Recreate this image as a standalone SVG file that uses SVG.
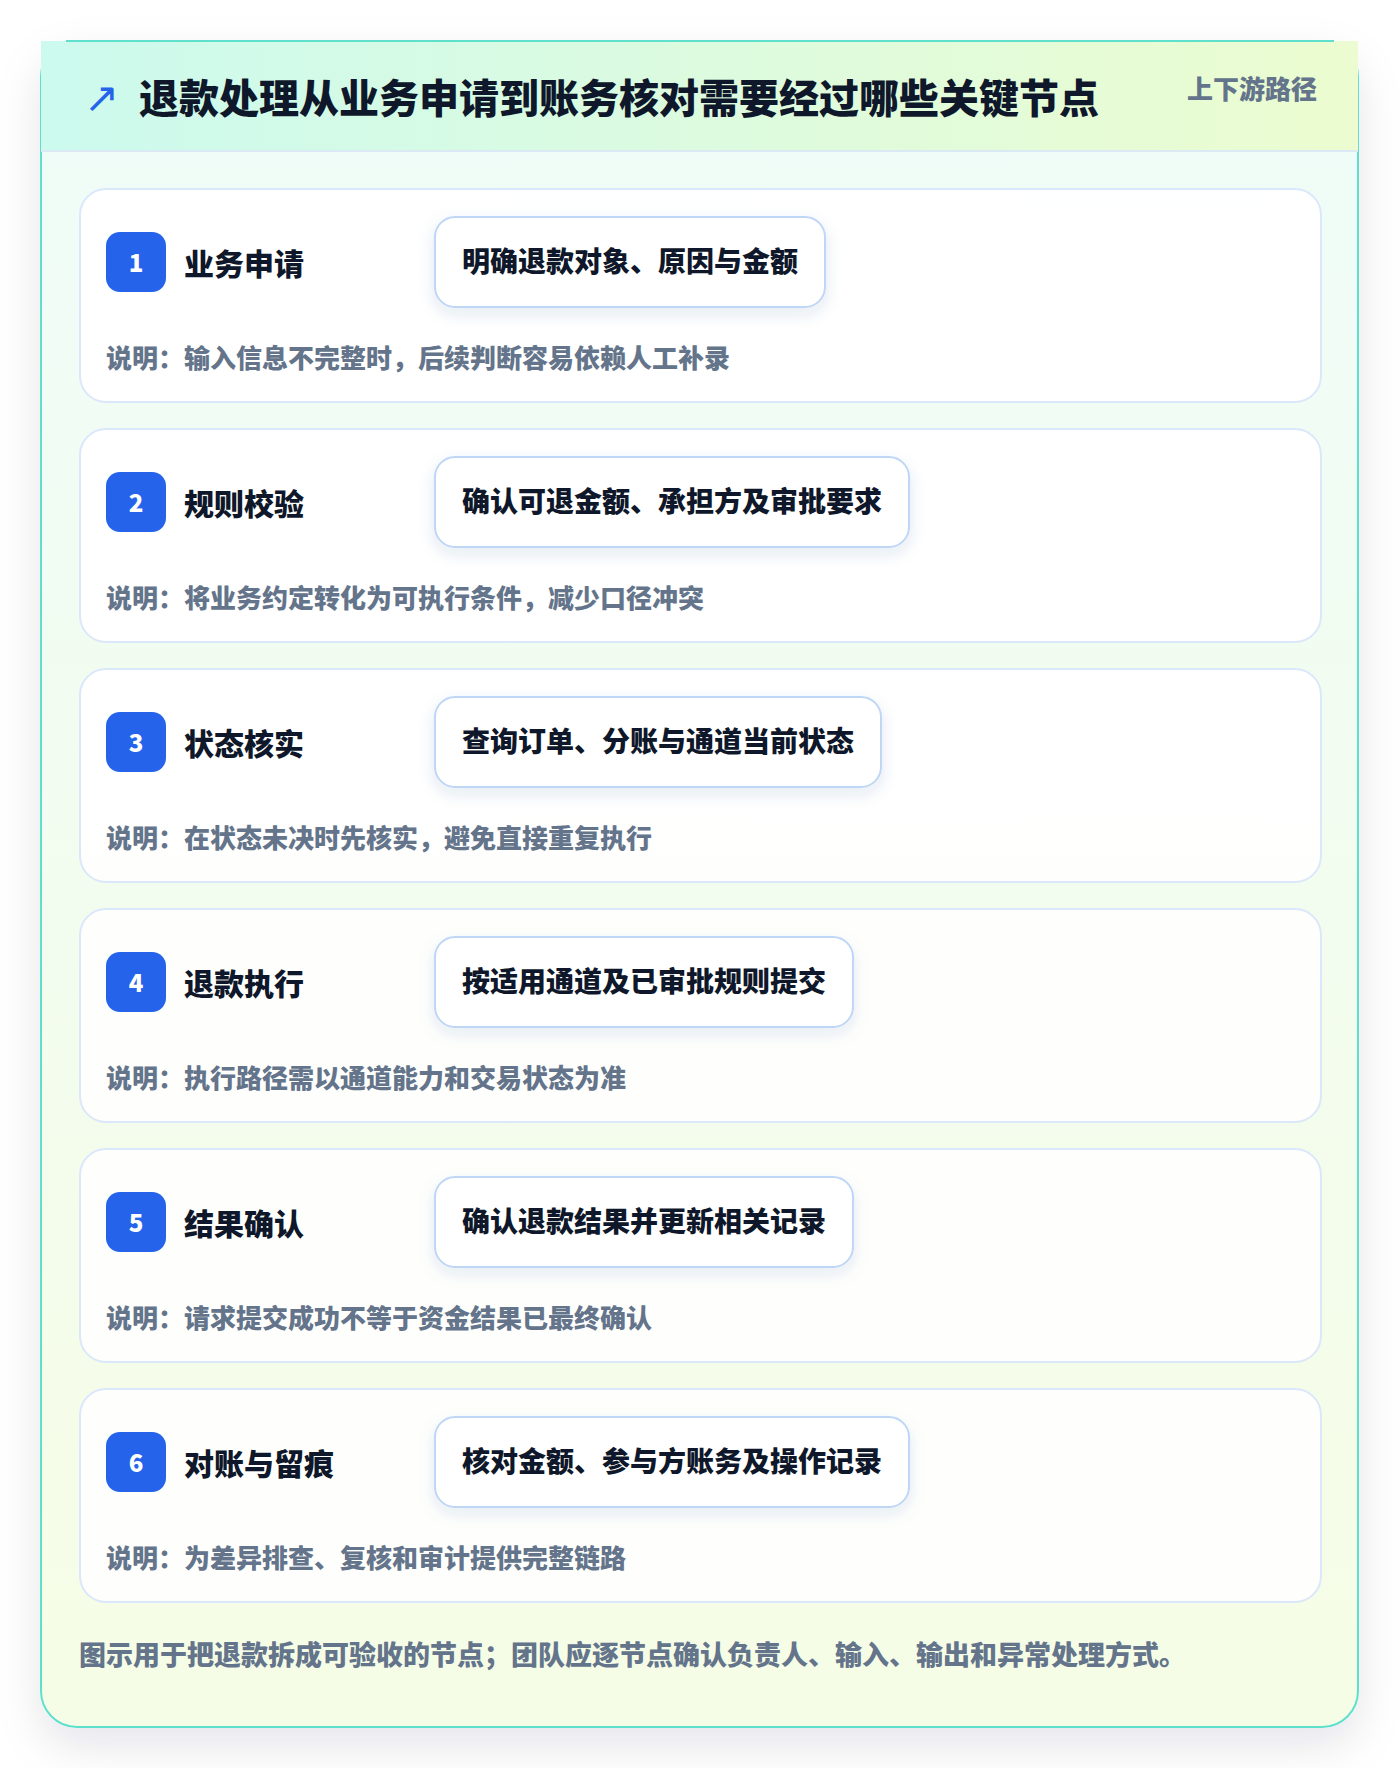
<svg xmlns="http://www.w3.org/2000/svg" width="1400" height="1768" viewBox="0 0 1400 1768">
<defs>
<linearGradient id="hdr" x1="0" y1="0" x2="1" y2="0"><stop offset="0" stop-color="#ccfaee"/><stop offset="1" stop-color="#ecfcd0"/></linearGradient>
<linearGradient id="body" x1="0" y1="0" x2="0" y2="1"><stop offset="0" stop-color="#effcf8"/><stop offset="1" stop-color="#f6fde6"/></linearGradient>
<filter id="cardSh" x="-10%" y="-10%" width="120%" height="120%"><feDropShadow dx="0" dy="18" stdDeviation="22" flood-color="#0f172a" flood-opacity="0.10"/></filter>
<filter id="boxSh" x="-20%" y="-30%" width="140%" height="170%"><feDropShadow dx="0" dy="6" stdDeviation="8" flood-color="#1e3a8a" flood-opacity="0.10"/></filter>
<style>
text{font-family:"Noto Sans CJK SC","Noto Sans",sans-serif;font-weight:900;dominant-baseline:central}
.node{fill:#ffffff;fill-opacity:0.88;stroke:#dbe7fb;stroke-width:2}
.badge{fill:#2563eb}
.num{fill:#ffffff;font-size:24px;text-anchor:middle}
.ttl{fill:#0f172a;font-size:30px}
.box{fill:#ffffff;stroke:#bfd6f6;stroke-width:2}
.btx{fill:#0f172a;font-size:28px}
.desc{fill:#64748b;font-size:26px}
</style>
</defs>
<rect width="1400" height="1768" fill="#ffffff"/>
<g id="frame">
<rect x="41" y="41" width="1317" height="1686" rx="36" fill="url(#body)" stroke="#5fe0cc" stroke-width="2" filter="url(#cardSh)"/>
<rect x="41" y="41" width="1317" height="110" fill="url(#hdr)"/>
<line x1="41" y1="151" x2="1358" y2="151" stroke="#dbe9f5" stroke-width="2"/>
<path d="M66 41 H1334" stroke="#5fe0cc" stroke-width="2"/>
<text x="84" y="97" font-size="42" fill="#2563eb" style="font-family:'DejaVu Sans',sans-serif;font-weight:400">↗</text>
<text x="139" y="96" font-size="40" fill="#0f172a">退款处理从业务申请到账务核对需要经过哪些关键节点</text>
<text x="1187" y="87" font-size="26" fill="#64748b">上下游路径</text>
</g>
<g id="connectors"></g>
<g id="node1">
<rect class="node" x="80" y="189" width="1241" height="213" rx="26"/>
<rect class="badge" x="106" y="232" width="60" height="60" rx="14"/>
<text class="num" x="136" y="261">1</text>
<text class="ttl" x="184" y="262">业务申请</text>
<rect class="box" x="435" y="217" width="390" height="90" rx="20" filter="url(#boxSh)"/>
<text class="btx" x="462" y="260">明确退款对象、原因与金额</text>
<text class="desc" x="106" y="356">说明：输入信息不完整时，后续判断容易依赖人工补录</text>
</g>
<g id="node2">
<rect class="node" x="80" y="429" width="1241" height="213" rx="26"/>
<rect class="badge" x="106" y="472" width="60" height="60" rx="14"/>
<text class="num" x="136" y="501">2</text>
<text class="ttl" x="184" y="502">规则校验</text>
<rect class="box" x="435" y="457" width="474" height="90" rx="20" filter="url(#boxSh)"/>
<text class="btx" x="462" y="500">确认可退金额、承担方及审批要求</text>
<text class="desc" x="106" y="596">说明：将业务约定转化为可执行条件，减少口径冲突</text>
</g>
<g id="node3">
<rect class="node" x="80" y="669" width="1241" height="213" rx="26"/>
<rect class="badge" x="106" y="712" width="60" height="60" rx="14"/>
<text class="num" x="136" y="741">3</text>
<text class="ttl" x="184" y="742">状态核实</text>
<rect class="box" x="435" y="697" width="446" height="90" rx="20" filter="url(#boxSh)"/>
<text class="btx" x="462" y="740">查询订单、分账与通道当前状态</text>
<text class="desc" x="106" y="836">说明：在状态未决时先核实，避免直接重复执行</text>
</g>
<g id="node4">
<rect class="node" x="80" y="909" width="1241" height="213" rx="26"/>
<rect class="badge" x="106" y="952" width="60" height="60" rx="14"/>
<text class="num" x="136" y="981">4</text>
<text class="ttl" x="184" y="982">退款执行</text>
<rect class="box" x="435" y="937" width="418" height="90" rx="20" filter="url(#boxSh)"/>
<text class="btx" x="462" y="980">按适用通道及已审批规则提交</text>
<text class="desc" x="106" y="1076">说明：执行路径需以通道能力和交易状态为准</text>
</g>
<g id="node5">
<rect class="node" x="80" y="1149" width="1241" height="213" rx="26"/>
<rect class="badge" x="106" y="1192" width="60" height="60" rx="14"/>
<text class="num" x="136" y="1221">5</text>
<text class="ttl" x="184" y="1222">结果确认</text>
<rect class="box" x="435" y="1177" width="418" height="90" rx="20" filter="url(#boxSh)"/>
<text class="btx" x="462" y="1220">确认退款结果并更新相关记录</text>
<text class="desc" x="106" y="1316">说明：请求提交成功不等于资金结果已最终确认</text>
</g>
<g id="node6">
<rect class="node" x="80" y="1389" width="1241" height="213" rx="26"/>
<rect class="badge" x="106" y="1432" width="60" height="60" rx="14"/>
<text class="num" x="136" y="1461">6</text>
<text class="ttl" x="184" y="1462">对账与留痕</text>
<rect class="box" x="435" y="1417" width="474" height="90" rx="20" filter="url(#boxSh)"/>
<text class="btx" x="462" y="1460">核对金额、参与方账务及操作记录</text>
<text class="desc" x="106" y="1556">说明：为差异排查、复核和审计提供完整链路</text>
</g>
<g id="footer">
<text x="79" y="1653" font-size="27" fill="#64748b">图示用于把退款拆成可验收的节点；团队应逐节点确认负责人、输入、输出和异常处理方式。</text>
</g>
</svg>
